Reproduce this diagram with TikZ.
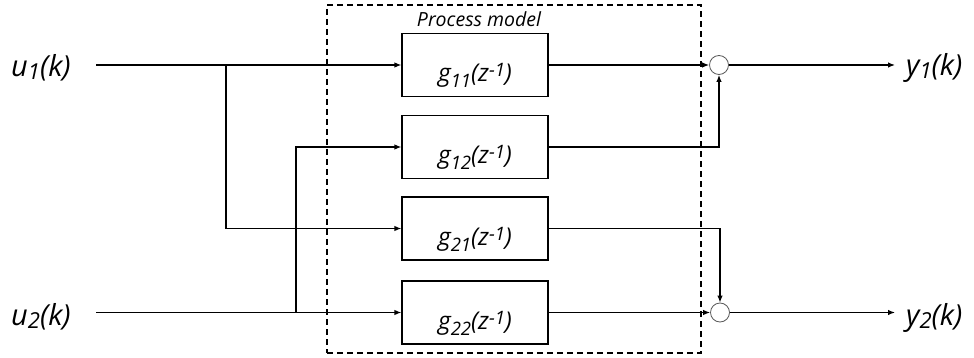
\documentclass[tikz,border=0pt]{standalone}
\usepackage{fontspec}
\setmainfont{Open Sans}
\usetikzlibrary{arrows.meta}
% lowered / raised index in a chosen size: {size}{shift}{text}
\newcommand\lowix[3]{\raisebox{-#2}{\fontsize{#1}{#1}\selectfont #3}}
\newcommand\highix[3]{\raisebox{#2}{\fontsize{#1}{#1}\selectfont #3}}
\newcommand\tf[1]{g\lowix{18.5pt}{6pt}{#1}(z\highix{18.5pt}{5pt}{-1})}
\newcommand\sg[2]{#1\lowix{22pt}{3pt}{#2}(k)}
\begin{document}
\begin{tikzpicture}[x=1pt,y=-1pt,
  block/.style={draw, line width=1.2pt, minimum width=146pt, minimum height=63pt,
    inner sep=0pt, text height=34pt, text depth=0pt,
    font=\fontsize{24.5}{26}\selectfont\itshape},
  sumpt/.style={circle, draw=black!65, line width=0.8pt, minimum size=19pt,
    inner sep=0pt, fill=white},
  wire/.style={line width=1.2pt},
  sig/.style={wire, -{Latex[length=7pt,width=5.5pt]}},
  sigl/.style={font=\fontsize{29}{31}\selectfont\itshape, inner sep=0pt},
  frame/.style={draw, line width=1.2pt, dash pattern=on 6pt off 4pt,
    minimum width=374pt, minimum height=348pt, inner sep=0pt}]
\useasboundingbox (0,0) rectangle (974,358);

% process model frame and caption
\node[frame] (pm) at (514,179) {};
\node[anchor=base, inner sep=0pt, font=\fontsize{19.5}{21}\selectfont\itshape]
  (pmcap) at (479,27) {Process model};

% transfer function blocks
\node[block] (g11) at (475,65)    {\tf{11}};
\node[block] (g12) at (475,147)   {\tf{12}};
\node[block] (g21) at (475,228.5) {\tf{21}};
\node[block] (g22) at (475,312.5) {\tf{22}};

% summing junctions
\node[sumpt] (s1) at (719,65) {};
\node[sumpt] (s2) at (720,312.5) {};

% input and output signals
\node[sigl, anchor=base west] (u1) at (11,77)  {\sg{u}{1}};
\node[sigl, anchor=base west] (u2) at (11,325) {\sg{u}{2}};
\node[sigl, anchor=base west] (y1) at (906,76) {\sg{y}{1}};
\node[sigl, anchor=base west] (y2) at (906,325) {\sg{y}{2}};

\coordinate (u1s) at (96,65);
\coordinate (u2s) at (96,312.5);
\coordinate (b1) at (226,65);
\coordinate (b2) at (296,312.5);
\coordinate (y1e) at (895,65);
\coordinate (y2e) at (895,312.5);

% input distribution
\draw[sig] (u1s) -- (g11.west);
\draw[sig] (b1) |- (g21.west);
\draw[sig] (u2s) -- (g22.west);
\draw[sig] (b2) |- (g12.west);

% outputs to summing junctions
\draw[sig] (g11.east) -- (s1.west);
\draw[sig] (g12.east) -| (s1.south);
\draw[sig] (g21.east) -| (s2.north);
\draw[sig] (g22.east) -- (s2.west);
\draw[sig] (s1.east) -- (y1e);
\draw[sig] (s2.east) -- (y2e);
\end{tikzpicture}
\end{document}
